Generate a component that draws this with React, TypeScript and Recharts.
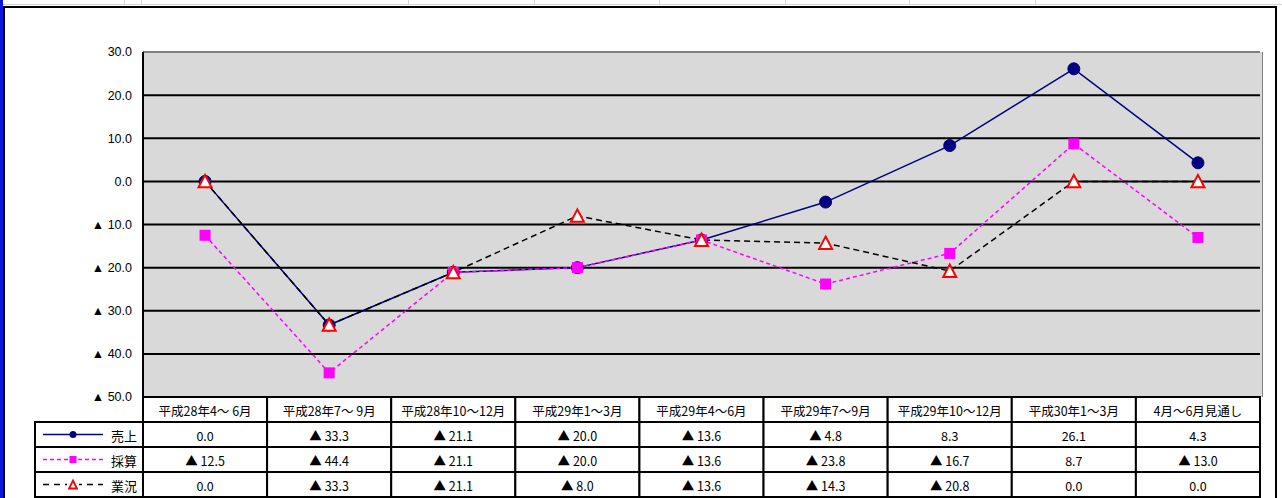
import React from 'react';
import { LineChart, Line, XAxis, YAxis, CartesianGrid, ReferenceLine } from 'recharts';

const categories = [
  '平成28年4～ 6月',
  '平成28年7～ 9月',
  '平成28年10～12月',
  '平成29年1～3月',
  '平成29年4～6月',
  '平成29年7～9月',
  '平成29年10～12月',
  '平成30年1～3月',
  '4月～6月見通し',
];
const uriage = [0.0, -33.3, -21.1, -20.0, -13.6, -4.8, 8.3, 26.1, 4.3];
const saisan = [-12.5, -44.4, -21.1, -20.0, -13.6, -23.8, -16.7, 8.7, -13.0];
const gyokyo = [0.0, -33.3, -21.1, -8.0, -13.6, -14.3, -20.8, 0.0, 0.0];
const seriesNames = ['売上', '採算', '業況'];
const yTicks = [30, 20, 10, 0, -10, -20, -30, -40, -50];
const topRuleX = [124, 141, 408, 534, 659, 785, 909, 1035];

const data = categories.map((c, i) => ({
  cat: c,
  uriage: uriage[i],
  saisan: saisan[i],
  gyokyo: gyokyo[i],
}));
const seriesValues = [uriage, saisan, gyokyo];

const W = 1282;
const H = 498;
const PLOT_L = 143;
const PLOT_R = 1260;
const PLOT_T = 52;
const PLOT_B = 397;
const COL_W = (PLOT_R - PLOT_L) / categories.length;
const ROW_H = 25;
const LEG_L = 35;
const TABLE_FONT = '"Noto Sans CJK JP", "Noto Sans", sans-serif';
const AXIS_FONT = '"Liberation Sans", Arial, sans-serif';

const NAVY = '#000080';
const MAGENTA = '#ff00ff';
const RED = '#ff0000';

const fmt = (v: number) => (v < 0 ? `▲ ${Math.abs(v).toFixed(1)}` : v.toFixed(1));

const Circle = ({ cx, cy }: any) => <circle cx={cx} cy={cy} r={6} fill={NAVY} stroke={NAVY} strokeWidth={1} />;
const Square = ({ cx, cy }: any) => <rect x={cx - 5.5} y={cy - 5.5} width={11} height={11} fill={MAGENTA} />;
const Tri = ({ cx, cy, s = 6.5 }: any) => (
  <polygon
    points={`${cx},${cy - s} ${cx + s},${cy + s * 0.9} ${cx - s},${cy + s * 0.9}`}
    fill="#fff"
    stroke={RED}
    strokeWidth={2}
  />
);

const LegendSample = ({ idx, cy }: { idx: number; cy: number }) => {
  const x1 = LEG_L + 8;
  const x2 = LEG_L + 68;
  const mx = (x1 + x2) / 2;
  if (idx === 0)
    return (
      <g>
        <line x1={x1} x2={x2} y1={cy} y2={cy} stroke={NAVY} strokeWidth={1.5} />
        <circle cx={mx} cy={cy} r={3.5} fill={NAVY} />
      </g>
    );
  if (idx === 1)
    return (
      <g>
        <line x1={x1} x2={x2} y1={cy} y2={cy} stroke={MAGENTA} strokeWidth={1.5} strokeDasharray="4 3" />
        <rect x={mx - 3.5} y={cy - 3.5} width={7} height={7} fill={MAGENTA} />
      </g>
    );
  return (
    <g>
      <line x1={x1} x2={x2} y1={cy} y2={cy} stroke="#000" strokeWidth={1.5} strokeDasharray="6 5" />
      <rect x={mx - 6} y={cy - 6} width={12} height={12} fill="#fff" />
      <polygon
        points={`${mx},${cy - 4} ${mx + 4},${cy + 4} ${mx - 4},${cy + 4}`}
        fill="#fff"
        stroke={RED}
        strokeWidth={1.8}
      />
    </g>
  );
};

const ColumnTick = (props: any) => {
  const { x, y, payload } = props;
  const i = payload.index;
  const left = x - COL_W / 2;
  const cells = [] as any[];
  cells.push(
    <g key="h">
      <rect x={left} y={y} width={COL_W} height={ROW_H} fill="#fff" stroke="#000" strokeWidth={2} />
      <text x={x} y={y + ROW_H / 2 + 1} textAnchor="middle" dominantBaseline="central" fontFamily={TABLE_FONT} fontSize={12.5} fill="#000">
        {payload.value}
      </text>
    </g>
  );
  seriesValues.forEach((vals, r) => {
    const top = y + ROW_H * (r + 1);
    cells.push(
      <g key={`v${r}`}>
        <rect x={left} y={top} width={COL_W} height={ROW_H} fill="#fff" stroke="#000" strokeWidth={2} />
        <text x={x} y={top + ROW_H / 2 + 1} textAnchor="middle" dominantBaseline="central" fontFamily={TABLE_FONT} fontSize={12.5} fill="#000">
          {fmt(vals[i])}
        </text>
      </g>
    );
  });
  if (i === 0) {
    seriesNames.forEach((name, r) => {
      const top = y + ROW_H * (r + 1);
      cells.push(
        <g key={`l${r}`}>
          <rect x={LEG_L} y={top} width={left - LEG_L} height={ROW_H} fill="#fff" stroke="#000" strokeWidth={2} />
          <LegendSample idx={r} cy={top + ROW_H / 2} />
          <text x={left - 6} y={top + ROW_H / 2 + 1} textAnchor="end" dominantBaseline="central" fontFamily={TABLE_FONT} fontSize={13} fill="#000">
            {name}
          </text>
        </g>
      );
    });
  }
  return <g>{cells}</g>;
};

export default function App() {
  return (
    <div style={{ position: 'absolute', left: 0, top: 0, width: W, height: H, background: '#fff', overflow: 'hidden' }}>
      {/* spreadsheet strip above the chart object */}
      <div style={{ position: 'absolute', left: 0, top: 0, width: W, height: 4, borderBottom: '1px solid #d4d4d4' }} />
      {topRuleX.map((x) => (
        <div key={x} style={{ position: 'absolute', left: x, top: 0, width: 1, height: 5, background: '#d4d4d4' }} />
      ))}
      {/* chart frame */}
      <div style={{ position: 'absolute', left: 3, top: 6, width: 1277 - 3, height: H, borderTop: '2px solid #000', borderLeft: '2px solid #000', borderRight: '2px solid #000', boxSizing: 'border-box' }} />
      <div style={{ position: 'absolute', left: 0, top: 0, width: 3, height: H, background: '#1414e0' }} />
      {/* right edge of plot area */}
      <div style={{ position: 'absolute', left: PLOT_R, top: PLOT_T, width: 2, height: PLOT_B - PLOT_T, background: '#d9d9d9', borderRight: '1px solid #808080' }} />
      <div style={{ position: 'absolute', left: 0, top: 0 }}>
        <LineChart
          width={W}
          height={H}
          data={data}
          margin={{ top: PLOT_T, right: W - PLOT_R, bottom: 0, left: 43 }}
        >
          <CartesianGrid vertical={false} stroke="#000" strokeWidth={2} fill="#d9d9d9" fillOpacity={1} />
          <XAxis
            dataKey="cat"
            scale="band"
            height={H - PLOT_B}
            axisLine={false}
            tickLine={false}
            tickSize={0}
            tickMargin={0}
            interval={0}
            tick={<ColumnTick />}
          />
          <YAxis
            width={PLOT_L - 43}
            domain={[-50, 30]}
            ticks={yTicks}
            tickFormatter={fmt}
            axisLine={{ stroke: '#000', strokeWidth: 2 }}
            tickLine={false}
            tickSize={0}
            tickMargin={11}
            tick={{ fill: '#000', fontSize: 12.5, fontFamily: AXIS_FONT }}
            allowDataOverflow
          />
          <ReferenceLine y={30} stroke="#808080" strokeWidth={2} />
          <Line
            dataKey="uriage"
            stroke={NAVY}
            strokeWidth={1.5}
            isAnimationActive={false}
            dot={(p: any) => <Circle key={`c${p.index}`} {...p} />}
            activeDot={false}
          />
          <Line
            dataKey="saisan"
            stroke={MAGENTA}
            strokeWidth={1.5}
            strokeDasharray="4 3"
            isAnimationActive={false}
            dot={(p: any) => <Square key={`s${p.index}`} {...p} />}
            activeDot={false}
          />
          <Line
            dataKey="gyokyo"
            stroke="#000"
            strokeWidth={1.5}
            strokeDasharray="6 4"
            isAnimationActive={false}
            dot={(p: any) => <Tri key={`t${p.index}`} cx={p.cx} cy={p.cy} />}
            activeDot={false}
          />
        </LineChart>
      </div>
    </div>
  );
}
